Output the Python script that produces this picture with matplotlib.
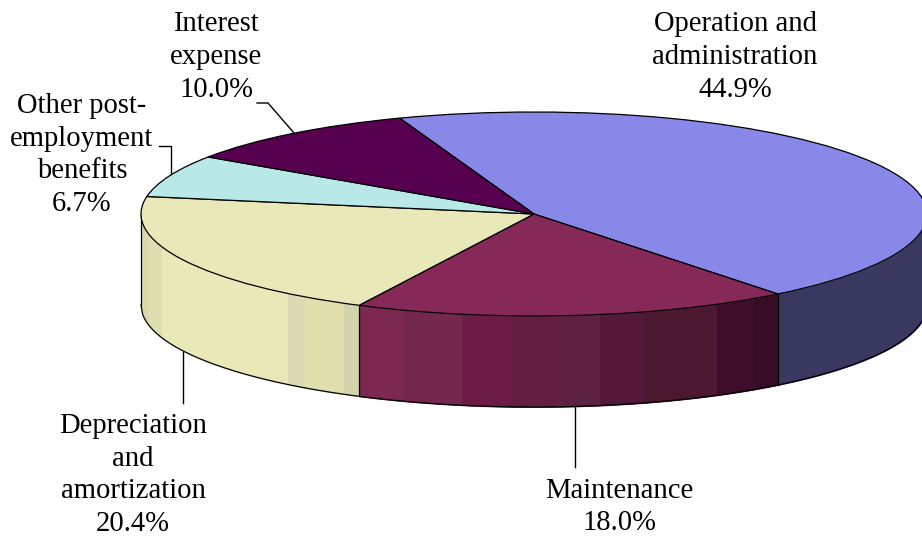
"""3D-look pie chart of cost shares, drawn on a pixel-sized axes."""

import numpy as np
import matplotlib

matplotlib.use("Agg")
import matplotlib.pyplot as plt
from matplotlib.transforms import Affine2D

plt.rcParams["font.family"] = ["Liberation Serif", "DejaVu Serif"]

categories = [
    "Operation and\nadministration",
    "Maintenance",
    "Depreciation\nand\namortization",
    "Other post-\nemployment\nbenefits",
    "Interest\nexpense",
]
shares = [44.9, 18.0, 20.4, 6.7, 10.0]
top_colors = ["#8888e8", "#862858", "#e8e8b8", "#b8e8e8", "#580050"]

# ellipse geometry in pixels
CX, CY, RX, RY = 534, 214, 393, 102
DEPTH = 91
START = 110

# shading stripes on the wall: (right edge in px, colour)
wall_bands = [
    (148, "#d8d8a8"), (162, "#dedeb0"), (288, "#e8e8b8"), (305, "#dcdcb4"),
    (344, "#e0e0ac"), (359, "#d4d4ac"),
    (401, "#7c2850"), (462, "#74284c"), (512, "#6c1c44"), (561, "#641f40"),
    (600, "#5c2240"), (644, "#541838"), (717, "#4c1830"), (754, "#3c0c28"),
    (778, "#380c24"), (930, "#383860"),
]

fig = plt.figure(figsize=(9.22, 5.37), dpi=100)
ax = fig.add_axes([0, 0, 1, 1])

wedges, _ = ax.pie(
    shares, colors=top_colors, startangle=START, counterclock=False,
    wedgeprops={"edgecolor": "black", "linewidth": 0.9},
)
ax.set_aspect("auto")
ax.set_xlim(0, 922)
ax.set_ylim(537, 0)
ax.axis("off")

squash = Affine2D().scale(RX, -RY).translate(CX, CY) + ax.transData
for w in wedges:
    w.set_transform(squash)
    w.set_zorder(3)
    w.set_clip_on(False)


def front_edge(x):
    dx = np.clip((x - CX) / RX, -1, 1)
    return CY + RY * np.sqrt(1 - dx ** 2)


# side wall
left = CX - RX
for right, color in wall_bands:
    xs = np.linspace(left, right, 80)
    ax.fill_between(xs, front_edge(xs), front_edge(xs) + DEPTH,
                    facecolor=color, edgecolor=color, linewidth=0.6, zorder=1)
    left = right

xs = np.linspace(CX - RX, CX + RX, 500)
ax.plot(xs, front_edge(xs) + DEPTH, color="black", lw=0.9, zorder=2)
ax.plot([CX - RX, CX - RX], [CY, CY + DEPTH], color="black", lw=0.9, zorder=2)

# dividers on the wall at the slice boundaries that face the viewer
angles = START - np.cumsum(shares) * 3.6
for a in angles:
    if np.sin(np.radians(a)) < 0:
        x = CX + RX * np.cos(np.radians(a))
        y = CY - RY * np.sin(np.radians(a))
        ax.plot([x, x], [y, y + DEPTH], color="black", lw=0.9, zorder=2)

# leader lines
leaders = [
    ([294, 268, 257], [133, 103, 103]),
    ([171, 171, 159], [175, 146, 146]),
    ([183, 183], [352, 403]),
    ([575, 575], [407, 467]),
]
for lx, ly in leaders:
    ax.plot(lx, ly, color="black", lw=1.0, zorder=2)

# labels
label_pos = [(735, 57), (619, 507), (133, 475), (82, 155), (216, 57)]
for name, share, (x, y) in zip(categories, shares, label_pos):
    ax.text(x, y, f"{name}\n{share:.1f}%", ha="center", va="center",
            fontsize=20.6, color="black", linespacing=1.33, zorder=4)

fig.savefig("out.png", dpi=100)
plt.close(fig)
